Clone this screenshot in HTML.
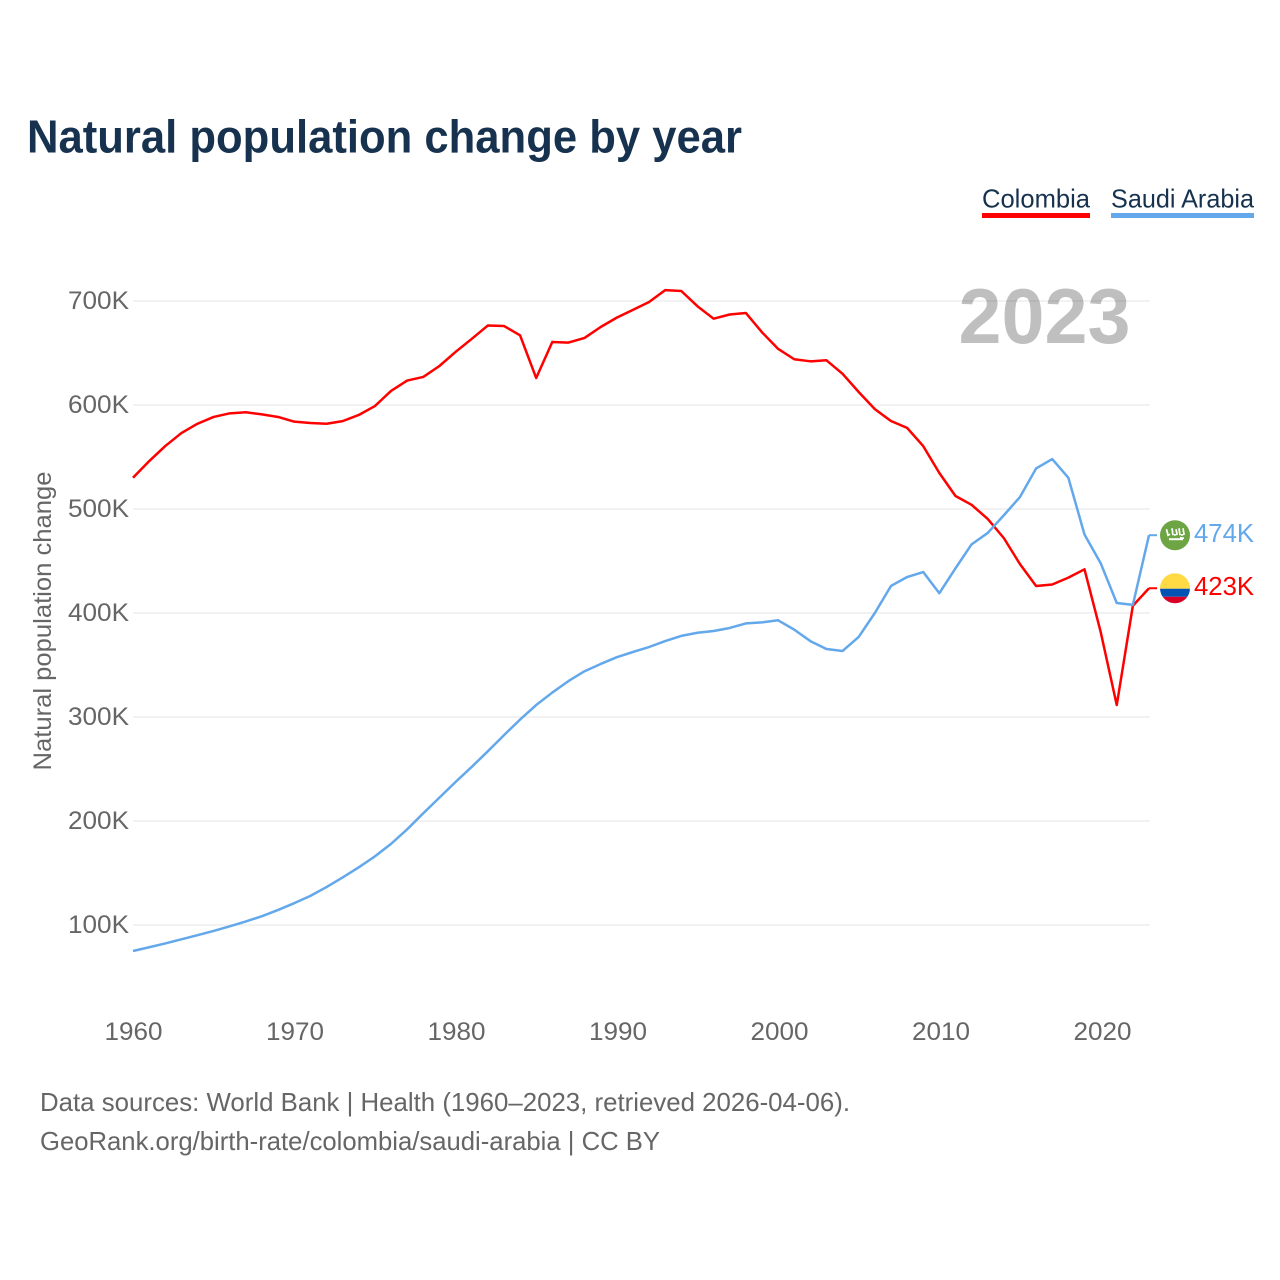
<!DOCTYPE html>
<html lang="en">
<head>
<meta charset="utf-8">
<title>Natural population change by year</title>
<style>
html,body{margin:0;padding:0;background:#fff;width:1280px;height:1280px;overflow:hidden}
svg{display:block;font-family:"Liberation Sans",sans-serif}
</style>
</head>
<body>
<svg id="chart" width="1280" height="1280" viewBox="0 0 1280 1280">
  <rect width="1280" height="1280" fill="#fff"/>
  <text x="27" y="152.5" font-size="46" font-weight="700" fill="#17324f" textLength="715" lengthAdjust="spacingAndGlyphs">Natural population change by year</text>

  <g>
    <g>
      <text x="982" y="207.5" font-size="26" fill="#17324f" textLength="108" lengthAdjust="spacingAndGlyphs">Colombia</text>
      <rect x="982" y="213" width="108" height="5" fill="#ff0000"/>
    </g>
    <g>
      <text x="1111" y="207.5" font-size="26" fill="#17324f" textLength="143" lengthAdjust="spacingAndGlyphs">Saudi Arabia</text>
      <rect x="1111" y="213" width="143" height="5" fill="#63a8eb"/>
    </g>
  </g>

  <g id="grid"></g>
  <text x="1130.5" y="343" font-size="78" font-weight="700" fill="#000" fill-opacity="0.25" text-anchor="end" textLength="172" lengthAdjust="spacingAndGlyphs">2023</text>
  <g id="y-ticks"></g>
  <g id="x-ticks"></g>
  <text transform="translate(51 621) rotate(-90)" font-size="25" fill="#666" text-anchor="middle" textLength="299" lengthAdjust="spacingAndGlyphs">Natural population change</text>
  <g id="series"></g>

  <g id="flag-sa">
    <circle cx="0" cy="0" r="15" fill="#6da544"/>
    <g fill="none" stroke="#fff" stroke-width="1.7">
      <path d="M-8.5 -6 L-7 0 L-5 -1 M-3 -7 L-2 0 M1 -6 L2 -1 L-1 0 M4 -7 L5 0 M8 -7 L9 -1 L6 0"/>
      <path d="M-6 4 L8 4" stroke-width="2"/>
      <path d="M5 2.5 L9 3"/>
    </g>
  </g>
  <g id="flag-co">
    <clipPath id="co-clip"><circle cx="0" cy="0" r="15"/></clipPath>
    <g clip-path="url(#co-clip)">
      <rect x="-15" y="-15" width="30" height="15.5" fill="#ffda44"/>
      <rect x="-15" y="0.5" width="30" height="8" fill="#0052b4"/>
      <rect x="-15" y="8.5" width="30" height="7" fill="#d80027"/>
    </g>
  </g>
  <text id="value-sa" x="1194" font-size="26" fill="#63a8eb" textLength="60" lengthAdjust="spacingAndGlyphs"></text>
  <text id="value-co" x="1194" font-size="26" fill="#ff0000" textLength="60" lengthAdjust="spacingAndGlyphs"></text>

  <text x="40" y="1111" font-size="26" fill="#666" textLength="810" lengthAdjust="spacingAndGlyphs">Data sources: World Bank | Health (1960–2023, retrieved 2026-04-06).</text>
  <text x="40" y="1150" font-size="26" fill="#666" textLength="620" lengthAdjust="spacingAndGlyphs">GeoRank.org/birth-rate/colombia/saudi-arabia | CC BY</text>
</svg>
<script>
const startYear = 1960;
const colombia = [530,546,560.5,573,582,588.5,592,593,591,588.5,584,582.7,582,584.5,590.4,599,613.5,623.5,627,637.5,651,663.5,676.4,676,667,626,660.6,660,664.5,675,684,691.5,699,710.5,709.6,695,683,687,688.5,670,654,644,642,643,630,612.5,596,584.6,578,560.5,534.6,512.5,504,490.4,472,447,426,427.4,434,442,382,311.5,407,423.8];
const saudiArabia = [75,78.6,82.3,86.2,90.2,94.3,98.7,103.4,108.5,114.5,121,128,136.5,145.7,155.5,166,178,192,207.5,222.5,237.5,252,267,282.5,297.5,311.5,323.5,334.5,344,351,357.5,362.5,367.3,373,378,381,382.7,385.6,390,391,393,384,373,365.4,363.5,377,400,426,434.6,439.4,419,443,466,477,494,511.5,539,548,530,475.5,448,409.6,407.8,474.8];
const yTickValues = [100,200,300,400,500,600,700];
const yTickLabels = ["100K","200K","300K","400K","500K","600K","700K"];
const xTickYears = [1960,1970,1980,1990,2000,2010,2020];
const endLabelColombia = "423K";
const endLabelSaudi = "474K";

const SVG_NS = "http://www.w3.org/2000/svg";
const xScale = function (year) { return 133 + (year - 1960) * (1149 - 133) / 63; };
const xTickScale = function (year) { return 133.5 + (year - 1960) * 16.15; };
const yScale = function (v) { return 301 + (700 - v) * 1.04; };
function el(tag, attrs, parent) {
  const node = document.createElementNS(SVG_NS, tag);
  for (const k in attrs) node.setAttribute(k, attrs[k]);
  parent.appendChild(node);
  return node;
}

const grid = document.getElementById("grid");
const yTicks = document.getElementById("y-ticks");
yTickValues.forEach(function (v, i) {
  const line = el("line", {x1: 133, x2: 1150, y1: yScale(v), y2: yScale(v), stroke: "#eeeeee", "stroke-width": 1.5}, grid);
  
  
  const t = el("text", {x: 129, y: yScale(v) + 8, "font-size": 25, fill: "#666", "text-anchor": "end", textLength: 61, lengthAdjust: "spacingAndGlyphs"}, yTicks);
  t.textContent = yTickLabels[i];
  
  
});

const xTicks = document.getElementById("x-ticks");
xTickYears.forEach(function (yr) {
  const t = el("text", {x: xTickScale(yr), y: 1040, "font-size": 25, fill: "#666", "text-anchor": "middle", textLength: 58, lengthAdjust: "spacingAndGlyphs"}, xTicks);
  t.textContent = String(yr);
  
  
});

function linePoints(values) {
  return values.map(function (v, i) {
    return xScale(startYear + i).toFixed(2) + "," + yScale(v).toFixed(2);
  }).join(" ");
}
const series = document.getElementById("series");

const lineCo = el("polyline", {points: linePoints(colombia), fill: "none", stroke: "#ff0000", "stroke-width": 2.5, "stroke-linejoin": "round"}, series);



const lineSa = el("polyline", {points: linePoints(saudiArabia), fill: "none", stroke: "#63a8eb", "stroke-width": 2.5, "stroke-linejoin": "round"}, series);



const lastCoY = yScale(colombia[colombia.length - 1]);
const lastSaY = yScale(saudiArabia[saudiArabia.length - 1]);
const lastX = xScale(startYear + colombia.length - 1);

const connCo = el("line", {x1: lastX, x2: lastX + 8, y1: lastCoY, y2: lastCoY, stroke: "#ff0000", "stroke-width": 2}, series);



const connSa = el("line", {x1: lastX, x2: lastX + 8, y1: lastSaY, y2: lastSaY, stroke: "#63a8eb", "stroke-width": 2}, series);



document.getElementById("flag-co").setAttribute("transform", "translate(1175 " + lastCoY + ")");
document.getElementById("flag-sa").setAttribute("transform", "translate(1175 " + lastSaY + ")");
const valueCo = document.getElementById("value-co");
valueCo.setAttribute("y", lastCoY + 7);
valueCo.textContent = endLabelColombia;
const valueSa = document.getElementById("value-sa");
valueSa.setAttribute("y", lastSaY + 7);
valueSa.textContent = endLabelSaudi;
</script>
</body>
</html>
